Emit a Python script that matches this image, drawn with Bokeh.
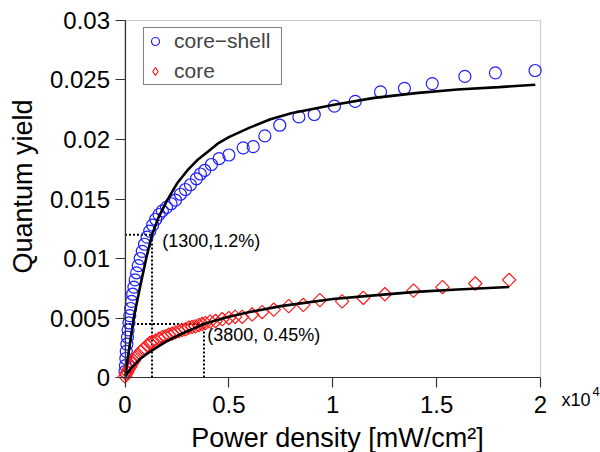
import numpy as np
from bokeh.plotting import figure
from bokeh.models import FixedTicker, Label, Legend, LegendItem, BoxAnnotation, Range1d
from bokeh.embed import file_html
from bokeh.resources import INLINE

FONT = "Liberation Sans"

# ---- data (power density in mW/cm^2, quantum yield as fraction) ----
cs_power = [0, 20, 40, 60, 90, 120, 150, 190, 230, 270, 320, 370, 430, 490, 560,
            640, 730, 830, 940, 1060, 1190, 1330, 1480, 1640, 1800, 2000, 2220,
            2430, 2670, 2910, 3150, 3440, 3630, 3840, 4160, 4530, 5000, 5690,
            6170, 6730, 7450, 8370, 9110, 10080, 11080, 12300, 13450, 14790,
            16360, 17830, 19740]
cs_qy = [0.0005, 0.0010, 0.0016, 0.0022, 0.0028, 0.0034, 0.0040, 0.0046, 0.0052,
         0.0058, 0.0064, 0.0070, 0.0076, 0.0082, 0.0088, 0.0094, 0.0100, 0.0106,
         0.0112, 0.0118, 0.0123, 0.0128, 0.0133, 0.0137, 0.0140, 0.0143, 0.0146,
         0.0149, 0.0154, 0.0158, 0.0162, 0.0167, 0.0171, 0.0174, 0.0179, 0.0184,
         0.0187, 0.0193, 0.0194, 0.0203, 0.0212, 0.0219, 0.0221, 0.0228, 0.0232,
         0.0240, 0.0243, 0.0247, 0.0253, 0.0256, 0.0258]

core_power = [0, 50, 110, 180, 260, 340, 420, 520, 640, 760, 900, 1070, 1200, 1310,
              1470, 1630, 1800, 1950, 2110, 2270, 2430, 2590, 2750, 2910, 3070,
              3230, 3390, 3550, 3710, 3870, 4100, 4360, 4680, 5000, 5300, 5640,
              6120, 6600, 7160, 7880, 8580, 9380, 10450, 11470, 12510, 13890,
              15280, 16860, 18490]
core_qy = [0.0001, 0.0003, 0.00045, 0.0007, 0.00093, 0.0012, 0.00141, 0.0017,
           0.0019, 0.0022, 0.0024, 0.0027, 0.0029, 0.0030, 0.0031, 0.00326,
           0.0034, 0.00345, 0.0036, 0.00368, 0.0038, 0.0039, 0.0040, 0.00405,
           0.0042, 0.00425, 0.0043, 0.0044, 0.0045, 0.00457, 0.0047, 0.00475,
           0.0049, 0.0050, 0.0051, 0.0051, 0.0053, 0.0055, 0.0057, 0.0060,
           0.0061, 0.0065, 0.0064, 0.0067, 0.0070, 0.0073, 0.0076, 0.0079, 0.0082]

cs_fit_power = [20, 100, 200, 420, 700, 1020, 1300, 1600, 2000, 2500, 3000, 3500,
                4000, 4500, 5000, 6000, 7000, 8000, 10000, 12000, 14000, 16000,
                18000, 19750]
cs_fit_qy = [0.0002, 0.0012, 0.0024, 0.0050, 0.0074, 0.0100, 0.0120, 0.0134,
             0.0148, 0.0163, 0.0174, 0.0183, 0.0190, 0.0197, 0.0202, 0.0210,
             0.0217, 0.0222, 0.0229, 0.0235, 0.0239, 0.0242, 0.0244, 0.0246]

core_fit_power = [20, 350, 750, 1150, 1950, 2750, 3550, 3800, 4360, 5000, 6000,
                  7500, 10000, 12000, 14000, 16000, 18490]
core_fit_qy = [0.0001, 0.0009, 0.0016, 0.0021, 0.0030, 0.0037, 0.0043, 0.0045,
               0.0048, 0.0051, 0.0055, 0.0060, 0.0066, 0.0069, 0.0072, 0.0074,
               0.0076]

marked_power = [1300, 3800]
marked_qy = [0.012, 0.0045]
marked_text = ["(1300,1.2%)", "(3800, 0.45%)"]

x_ticks = [0, 5000, 10000, 15000, 20000]
x_tick_labels = ["0", "0.5", "1", "1.5", "2"]
y_ticks = [0, 0.005, 0.01, 0.015, 0.02, 0.025, 0.03]
y_tick_labels = ["0", "0.005", "0.01", "0.015", "0.02", "0.025", "0.03"]

series_names = ["core\u2212shell", "core"]
x_title = "Power density [mW/cm\u00b2]"
y_title = "Quantum yield"

X_MIN, X_MAX = 0, 20000
Y_MIN, Y_MAX = 0, 0.03

CS_COLOR = "#1f1fff"
CORE_COLOR = "#ff1a1a"

# ---- figure: the frame covers the whole canvas; axes sit at fixed data locations ----
p = figure(width=600, height=452, output_backend="svg", toolbar_location=None,
           x_range=Range1d(-5993, 22888), y_range=Range1d(-0.0063, 0.03168),
           min_border_left=0, min_border_right=0, min_border_top=0,
           min_border_bottom=0)
p.grid.visible = False
p.outline_line_color = None
p.background_fill_color = "white"
p.border_fill_color = "white"

p.xaxis.ticker = FixedTicker(ticks=x_ticks)
p.xaxis.major_label_overrides = dict(zip(x_ticks, x_tick_labels))
p.xaxis.fixed_location = Y_MIN
p.xaxis.bounds = (X_MIN, X_MAX)
p.yaxis.ticker = FixedTicker(ticks=y_ticks)
p.yaxis.major_label_overrides = dict(zip(y_ticks, y_tick_labels))
p.yaxis.fixed_location = X_MIN
p.yaxis.bounds = (Y_MIN, Y_MAX)

for ax in (p.xaxis[0], p.yaxis[0]):
    ax.major_label_text_font = FONT
    ax.major_label_text_font_size = "24px"
    ax.major_label_text_color = "black"
    ax.axis_line_color = "#333333"
    ax.axis_line_width = 1.2
    ax.major_tick_line_color = "#333333"
    ax.major_tick_line_width = 1.2
    ax.major_tick_in = 0
    ax.major_tick_out = 10
    ax.minor_tick_line_color = None
p.xaxis.major_label_standoff = 8
p.yaxis.major_label_standoff = 5

# plot box
p.add_layout(BoxAnnotation(left=X_MIN, right=X_MAX, bottom=Y_MIN, top=Y_MAX,
                           fill_alpha=0, line_color="#555555", line_width=1.2,
                           level="underlay"))

# dotted guide lines
p.segment(x0=[X_MIN] * len(marked_power), y0=marked_qy, x1=marked_power, y1=marked_qy,
          line_color="black", line_width=2, line_dash="2 2")
p.segment(x0=marked_power, y0=[Y_MIN] * len(marked_power), x1=marked_power, y1=marked_qy,
          line_color="black", line_width=2, line_dash="2 2")

# data points
r_cs = p.scatter(x=cs_power, y=cs_qy, marker="circle", size=12, fill_color=None,
                 line_color=CS_COLOR, line_width=1.2)
r_core = p.scatter(x=core_power, y=core_qy, marker="square", angle=np.pi / 4, size=9.5,
                   fill_color=None, line_color=CORE_COLOR, line_width=1.2)

# fit curves
p.line(cs_fit_power, cs_fit_qy, line_color="black", line_width=2.6)
p.line(core_fit_power, core_fit_qy, line_color="black", line_width=2.6)

# legend-only glyph for the diamond key (no visible data point)
leg_core = p.scatter(x=np.array([np.nan]), y=np.array([np.nan]), marker="diamond",
                     fill_color=None, line_color=CORE_COLOR, line_width=1.2)

legend = Legend(items=[LegendItem(label=series_names[0], renderers=[r_cs]),
                       LegendItem(label=series_names[1], renderers=[leg_core])],
                location=(143, 367), label_text_font=FONT, label_text_font_size="21px",
                border_line_color="black", border_line_width=1, padding=1, spacing=6,
                glyph_width=20, glyph_height=24, label_height=24, label_standoff=9,
                label_width=106, margin=0, background_fill_alpha=1)
p.add_layout(legend)

# annotations
p.add_layout(Label(x=1790, y=0.01143, text=marked_text[0], text_font=FONT,
                   text_font_size="18px", text_baseline="middle", text_color="black"))
p.add_layout(Label(x=3957, y=0.00361, text=marked_text[1], text_font=FONT,
                   text_font_size="18px", text_baseline="middle", text_color="black"))

# axis titles and exponent
p.add_layout(Label(x=10229, y=-0.00504, text=x_title, text_font=FONT,
                   text_font_size="27px", text_align="center", text_baseline="middle",
                   text_color="black"))
p.add_layout(Label(x=-4910, y=0.01605, text=y_title, text_font=FONT,
                   text_font_size="27px", text_align="center", text_baseline="middle",
                   angle=np.pi / 2, text_color="black"))
p.add_layout(Label(x=21011, y=-0.00193, text="x10", text_font=FONT,
                   text_font_size="18px", text_baseline="middle", text_color="black"))
p.add_layout(Label(x=22503, y=-0.00118, text="4", text_font=FONT,
                   text_font_size="13px", text_baseline="middle", text_color="black"))

open("out.html", "w").write(file_html(p, INLINE))
